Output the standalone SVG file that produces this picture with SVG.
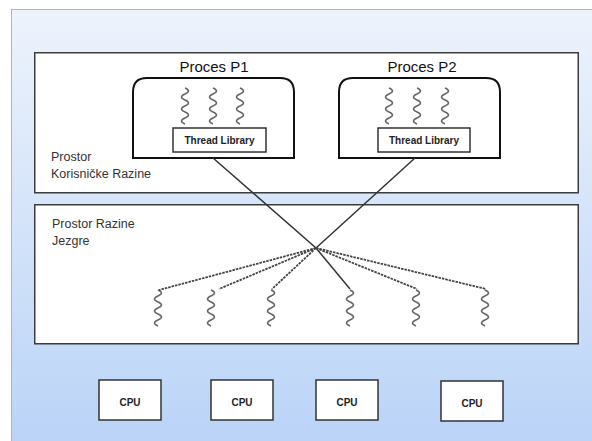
<svg xmlns="http://www.w3.org/2000/svg" xmlns:xlink="http://www.w3.org/1999/xlink" width="592" height="441" viewBox="0 0 592 441">
<defs>
<linearGradient id="bg" x1="0" y1="0" x2="0" y2="1">
<stop offset="0" stop-color="#edf3fc"/>
<stop offset="1" stop-color="#b9d3f7"/>
</linearGradient>
<path id="sq" d="M0,0 q7,3 0,6 t0,6 t0,6 t0,6 t0,6 t0,6"/>
</defs>
<style>
.space{fill:#ffffff;stroke:#3c3c3c;stroke-width:1.5}
.proc{fill:#ffffff;stroke:#111111;stroke-width:2}
.box{fill:#ffffff;stroke:#333333;stroke-width:1.5}
.sq{fill:none;stroke:#666666;stroke-width:1.5}
.t{font-family:"Liberation Sans",Arial,sans-serif;fill:#333333}
.title{font-size:15px;fill:#111111;text-anchor:middle}
.lbl{font-size:12.5px}
.small{font-size:10px;text-anchor:middle;fill:#222222;font-weight:bold}
.solid{fill:none;stroke:#333333;stroke-width:1.5}
.dash{fill:none;stroke:#444444;stroke-width:1.8;stroke-dasharray:2.5 1}
</style>
<rect x="11.5" y="9.5" width="590" height="440" fill="url(#bg)" stroke="#a7b6c6" stroke-width="1"/>

<g id="user-space">
<rect class="space" x="34.75" y="52.75" width="543.5" height="140"/>
<text class="t lbl" x="51" y="161">Prostor</text>
<text class="t lbl" x="51" y="178">Korisničke Razine</text>
</g>

<g id="kernel-space">
<rect class="space" x="34.75" y="204.75" width="543.5" height="139"/>
<text class="t lbl" x="52" y="228">Prostor Razine</text>
<text class="t lbl" x="52" y="245">Jezgre</text>
</g>

<g id="process-p1">
<text class="t title" x="214" y="72">Proces P1</text>
<path class="proc" d="M133,158 V92 Q133,78 147,78 H280 Q294,78 294,92 V158 Z"/>
<use href="#sq" class="sq" x="185" y="88"/>
<use href="#sq" class="sq" x="213" y="88"/>
<use href="#sq" class="sq" x="240" y="88"/>
<g id="thread-library-p1">
<rect class="box" x="173" y="128" width="93" height="24" stroke-width="1.2"/>
<text class="t small" x="219.5" y="144">Thread Library</text>
</g>
</g>

<g id="process-p2">
<text class="t title" x="422" y="72">Proces P2</text>
<path class="proc" d="M339,158 V92 Q339,78 353,78 H486 Q500,78 500,92 V158 Z"/>
<use href="#sq" class="sq" x="389" y="88"/>
<use href="#sq" class="sq" x="417" y="88"/>
<use href="#sq" class="sq" x="445" y="88"/>
<g id="thread-library-p2">
<rect class="box" x="378" y="128" width="92" height="24" stroke-width="1.2"/>
<text class="t small" x="424" y="144">Thread Library</text>
</g>
</g>

<g id="kernel-threads">
<use href="#sq" class="sq" x="158" y="290"/>
<use href="#sq" class="sq" x="211" y="290"/>
<use href="#sq" class="sq" x="271" y="290"/>
<use href="#sq" class="sq" x="350" y="290"/>
<use href="#sq" class="sq" x="416" y="290"/>
<use href="#sq" class="sq" x="485" y="290"/>
</g>

<g id="connectors">
<polyline class="solid" points="213,158 316,248 350,289"/>
<line class="solid" x1="415" y1="158" x2="316" y2="248"/>
<line class="dash" x1="316" y1="248" x2="159" y2="290"/>
<line class="dash" x1="316" y1="248" x2="219" y2="289"/>
<line class="dash" x1="316" y1="248" x2="272" y2="289"/>
<line class="dash" x1="316" y1="248" x2="417" y2="289"/>
<line class="dash" x1="316" y1="248" x2="486" y2="289"/>
</g>

<g id="cpu1">
<rect class="box" x="99" y="380" width="62" height="40"/>
<text class="t small" x="130" y="406">CPU</text>
</g>
<g id="cpu2">
<rect class="box" x="211" y="380" width="62" height="40"/>
<text class="t small" x="242" y="406">CPU</text>
</g>
<g id="cpu3">
<rect class="box" x="316" y="380" width="62" height="40"/>
<text class="t small" x="347" y="406">CPU</text>
</g>
<g id="cpu4">
<rect class="box" x="441" y="381" width="62" height="40"/>
<text class="t small" x="472" y="407">CPU</text>
</g>
</svg>
